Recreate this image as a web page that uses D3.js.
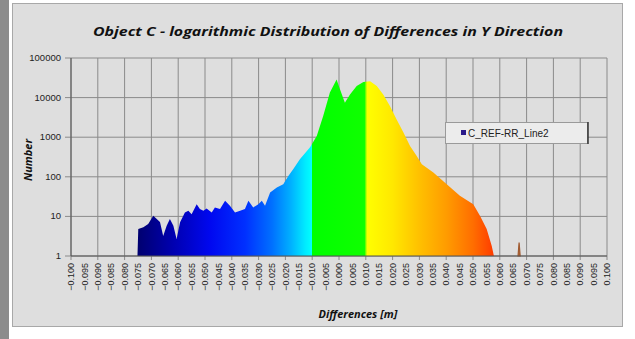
<!DOCTYPE html>
<html><head><meta charset="utf-8">
<script src="https://cdn.jsdelivr.net/npm/d3@7"></script>
<style>html,body{margin:0;padding:0;background:#fff;}svg{display:block;}</style>
</head><body>
<svg id="c" width="635" height="339"></svg>
<script>
// ---- data ----
const differences = [-0.0752,-0.0749,-0.0730,-0.0712,-0.0693,-0.0680,-0.0668,-0.0656,-0.0643,-0.0631,-0.0618,-0.0606,-0.0593,-0.0575,-0.0562,-0.0550,-0.0531,-0.0519,-0.0506,-0.0494,-0.0475,-0.0463,-0.0444,-0.0425,-0.0407,-0.0388,-0.0369,-0.0351,-0.0338,-0.0320,-0.0301,-0.0288,-0.0276,-0.0257,-0.0232,-0.0208,-0.0189,-0.0171,-0.0146,-0.0108,-0.0083,-0.0059,-0.0034,-0.0009,0.0004,0.0022,0.0041,0.0066,0.0091,0.0116,0.0141,0.0165,0.0190,0.0215,0.0240,0.0265,0.0290,0.0309,0.0352,0.0402,0.0451,0.0501,0.0526,0.0551,0.0570,0.0578];
const counts = [1,4.8,5.3,6.4,10.4,8.6,7.2,3.2,5.8,8.6,5.8,2.7,7.1,12.6,13.8,11.4,20.4,15.3,13.8,15.9,12.6,16.9,15.3,24.7,18.5,12.6,13.8,15.3,24.7,16.9,20.4,24.7,18.5,40,54,65,105,155,277,557,1070,3420,13500,28700,16100,7450,12000,19500,24600,26000,19500,12000,6100,2800,1330,600,336,208,128,65,33,20.4,10.4,4.8,1.8,1];
const outlierDifferences = [0.0668,0.0672,0.0676];
const outlierCounts = [1,2.2,1];
const xTickLabels = d3.range(41).map(i => (-0.1 + i*0.005));
const yTickLabels = [1,10,100,1000,10000,100000];
const seriesName = "C_REF-RR_Line2";
const titleText = "Object C - logarithmic Distribution of Differences in Y Direction";
const xTitle = "Differences [m]";
const yTitle = "Number";

// ---- layout ----
const svg = d3.select("#c");
const L = 71, R = 607, T = 58, B = 256;
svg.append("rect").attr("x",0).attr("y",0).attr("width",9).attr("height",339).attr("fill","#8c8c8c");
svg.append("rect").attr("x",12.5).attr("y",3.5).attr("width",610).attr("height",323)
  .attr("fill","#dedede").attr("stroke","#a8a8a8");

const x = d3.scaleLinear().domain([-0.1,0.1]).range([L,R]);
const y = d3.scaleLog().domain([1,100000]).range([B,T]);

const g = svg.append("g");
g.selectAll(".hg").data(yTickLabels).enter().append("line")
  .attr("x1",L-6).attr("x2",R).attr("y1",d=>y(d)).attr("y2",d=>y(d))
  .attr("stroke","#8a8a8a").attr("stroke-width",1);
g.selectAll(".vg").data(d3.range(21).map(i=>-0.1+i*0.01)).enter().append("line")
  .attr("x1",d=>x(d)).attr("x2",d=>x(d)).attr("y1",T).attr("y2",B+4)
  .attr("stroke","#8a8a8a").attr("stroke-width",1);

const defs = svg.append("defs");
const grad = defs.append("linearGradient").attr("id","spec")
  .attr("gradientUnits","userSpaceOnUse")
  .attr("x1",x(-0.1)).attr("x2",x(0.1)).attr("y1",0).attr("y2",0);
const stops = [
  [-0.075,"#000070"],[-0.062,"#0000b0"],[-0.048,"#0008f0"],[-0.035,"#0030ff"],
  [-0.025,"#0070ff"],[-0.018,"#00b0ff"],[-0.0125,"#00ecff"],[-0.0102,"#00ffff"],
  [-0.0101,"#00ff00"],[0.0095,"#10ff00"],[0.0105,"#ffff00"],[0.020,"#ffe800"],
  [0.030,"#ffc000"],[0.040,"#ff9c00"],[0.050,"#ff6e00"],[0.058,"#ff3a00"],[0.07,"#ff2000"]
];
stops.forEach(s => grad.append("stop")
  .attr("offset",((s[0]+0.1)/0.2))
  .attr("stop-color",s[1]));

const series = differences.map((d,i)=>({diff:d,count:counts[i]}));
const outlier = outlierDifferences.map((d,i)=>({diff:d,count:outlierCounts[i]}));
const area = d3.area().x(d=>x(d.diff)).y0(y(1)).y1(d=>y(d.count));
svg.append("path").datum(series).attr("d",area).attr("fill","url(#spec)");
svg.append("path").datum(outlier).attr("d",area).attr("fill","#b0602a")
  .attr("stroke","#a05a30").attr("stroke-width",1.2);

svg.append("line").attr("x1",L).attr("x2",L).attr("y1",T).attr("y2",B).attr("stroke","#555");
svg.append("line").attr("x1",L).attr("x2",R).attr("y1",B).attr("y2",B).attr("stroke","#555");

svg.selectAll(".yl").data(yTickLabels).enter().append("text")
  .attr("x",L-10).attr("y",d=>y(d)+3)
  .attr("text-anchor","end").attr("font-family","Liberation Sans, Arial").attr("font-size",9.5)
  .attr("fill","#222").text(d=>d);

svg.selectAll(".xl").data(xTickLabels).enter().append("text")
  .attr("transform",d=>`translate(${x(d)+3.2},${B+7}) rotate(-90)`)
  .attr("text-anchor","end").attr("font-family","Liberation Sans, Arial").attr("font-size",9)
  .attr("fill","#222").text(d=>d3.format(".3f")(Math.abs(d)<1e-9?0:d));

svg.append("text").attr("x",328).attr("y",36).attr("text-anchor","middle")
  .attr("font-family","Open Sans, Liberation Sans").attr("font-weight","bold").attr("font-style","italic")
  .attr("font-size",12).attr("textLength",470).attr("lengthAdjust","spacingAndGlyphs")
  .attr("fill","#111").text(titleText);
svg.append("text").attr("x",358).attr("y",318).attr("text-anchor","middle")
  .attr("font-family","Open Sans, Liberation Sans").attr("font-weight","bold").attr("font-style","italic")
  .attr("font-size",11).attr("fill","#111").text(xTitle);
svg.append("text").attr("transform","translate(32,160) rotate(-90)").attr("text-anchor","middle")
  .attr("font-family","Open Sans, Liberation Sans").attr("font-weight","bold").attr("font-style","italic")
  .attr("font-size",11).attr("fill","#111").text(yTitle);

const lg = svg.append("g");
lg.append("rect").attr("x",445.5).attr("y",122.5).attr("width",142).attr("height",21)
  .attr("fill","#ececec").attr("stroke","#9a9a9a");
lg.append("line").attr("x1",588).attr("x2",588).attr("y1",122).attr("y2",144).attr("stroke","#333").attr("stroke-width",1.5);
lg.append("rect").attr("x",461).attr("y",130).attr("width",5).attr("height",5).attr("fill","#2a1a8a");
lg.append("text").attr("x",468).attr("y",137).attr("font-family","Liberation Sans, Arial").attr("font-size",10)
  .attr("fill","#222").text(seriesName);
</script>
</body></html>
